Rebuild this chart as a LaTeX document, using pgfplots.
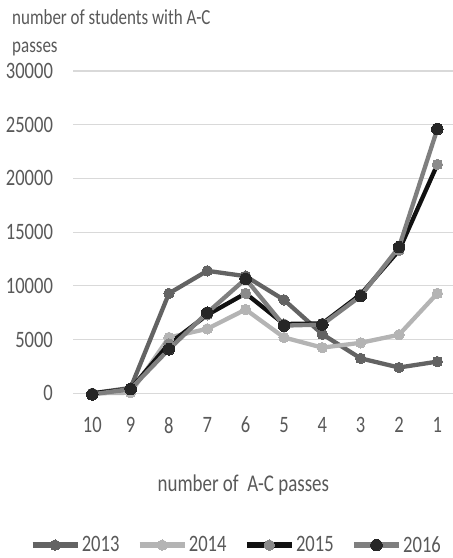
\documentclass[border=0pt]{standalone}
\usepackage{pgfplots}
\pgfplotsset{compat=1.18}
\usepackage{fontspec}
\setmainfont[FakeStretch=0.79]{Carlito}
\definecolor{txt}{HTML}{595959}
\definecolor{gridc}{HTML}{D9D9D9}
\definecolor{c13}{HTML}{636363}
\definecolor{c14}{HTML}{B4B4B4}
\definecolor{c15l}{HTML}{111111}
\definecolor{c15m}{HTML}{8A8A8A}
\definecolor{c16l}{HTML}{7F7F7F}
\definecolor{c16m}{HTML}{262626}
\newcommand\fs[1]{\fontsize{#1bp}{#1bp}\selectfont}
\begin{document}
\begin{tikzpicture}[x=1bp,y=1bp]
\useasboundingbox (0,0) rectangle (453,558);
\node[anchor=base west, inner sep=0pt, text=txt, font=\fs{21.5}] at (12,{558-25}) {number of students with A-C};
\node[anchor=base west, inner sep=0pt, text=txt, font=\fs{21.5}] at (12,{558-53}) {passes};
\begin{axis}[
  at={(73.1bp,164.7bp)}, anchor=south west,
  scale only axis, width=383.4bp, height=322.3bp,
  xmin=-0.5, xmax=9.5, ymin=0, ymax=30000,
  xtick={0,...,9}, xticklabels={10,9,8,7,6,5,4,3,2,1},
  ytick={0,5000,10000,15000,20000,25000,30000},
  yticklabels={0,5000,10000,15000,20000,25000,30000},
  scaled y ticks=false,
  axis line style={draw=none}, major tick length=0pt,
  ymajorgrids, grid style={color=gridc, line width=1.2bp},
  clip=false,
  tick label style={font=\fs{23.5}, text=txt, inner sep=0pt},
  yticklabel style={anchor=east, xshift=-20bp},
  xticklabel style={anchor=north, yshift=-23.5bp},
  xlabel={number of\ \ A-C passes},
  xlabel style={font=\fs{24}, text=txt, anchor=base, inner sep=0pt, at={(axis description cs:0.444,0)}, yshift=-98.7bp},
  legend columns=4,
  legend style={draw=none, fill=none, at={(axis description cs:0.425,-0.471)}, anchor=center,
    font=\fs{23.5}, text=txt, nodes={inner sep=1.5bp},
    /tikz/every even column/.append style={column sep=16bp}},
  legend image code/.code={%
    \draw[#1,mark=none,line width=5.5bp] (0bp,0bp) -- (45bp,0bp);
    \path[#1,draw=none] plot coordinates {(22.5bp,0bp)};},
]
\addplot[color=c13, line width=4.3bp, mark=*, mark size=5.2bp, mark options={fill=c13, draw=c13, line width=0pt}]
 coordinates {(0,0) (1,500) (2,9300) (3,11400) (4,10900) (5,8700) (6,5500) (7,3250) (8,2400) (9,2950)};
\addlegendentry{2013}
\addplot[color=c14, line width=4.3bp, mark=*, mark size=5.2bp, mark options={fill=c14, draw=c14, line width=0pt}]
 coordinates {(0,0) (1,50) (2,5200) (3,6000) (4,7800) (5,5200) (6,4250) (7,4700) (8,5450) (9,9300)};
\addlegendentry{2014}
\addplot[color=c15l, line width=4.3bp, mark=*, mark size=5.2bp, mark options={fill=c15m, draw=c15m, line width=0pt}]
 coordinates {(0,0) (1,400) (2,4600) (3,7300) (4,9300) (5,6450) (6,6500) (7,9200) (8,13300) (9,21300)};
\addlegendentry{2015}
\addplot[color=c16l, line width=4.3bp, mark=*, mark size=5.8bp, mark options={fill=c16m, draw=c16m, line width=0pt}]
 coordinates {(0,-100) (1,400) (2,4100) (3,7500) (4,10650) (5,6300) (6,6400) (7,9050) (8,13600) (9,24600)};
\addlegendentry{2016}
\end{axis}
\end{tikzpicture}
\end{document}
